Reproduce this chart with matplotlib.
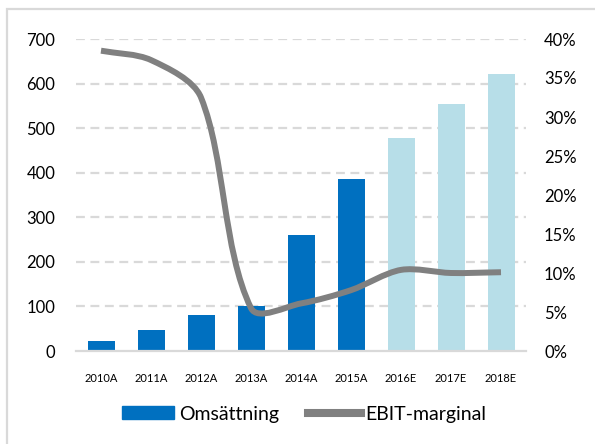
import numpy as np
import matplotlib.pyplot as plt
from matplotlib.path import Path
from matplotlib.patches import PathPatch, Rectangle, Patch
from matplotlib.lines import Line2D
from matplotlib.ticker import FuncFormatter

plt.rcParams['font.family'] = ['Lato', 'DejaVu Sans']

# data
years = ['2010A', '2011A', '2012A', '2013A', '2014A', '2015A', '2016E', '2017E', '2018E']
omsattning = [22, 47, 81, 100, 260, 386, 478, 554, 621]
ebit_marginal = [0.385, 0.373, 0.325, 0.055, 0.061, 0.078, 0.104, 0.100, 0.101]
estimat = [False, False, False, False, False, False, True, True, True]

blue = '#0070C0'
lightblue = '#B7DEE8'
grey = '#808080'
gridc = '#D9D9D9'

fig = plt.figure(figsize=(5.95, 4.44), dpi=100)
ax = fig.add_axes([76/595, 1-351/444, 450/595, 312/444])
ax2 = ax.twinx()

x = np.arange(len(years))
cols = [lightblue if e else blue for e in estimat]
ax.bar(x, omsattning, width=0.54, color=cols, zorder=2)
ax.set_xlim(-0.5, len(years)-0.5)
ax.set_ylim(0, 700)
ax.set_yticks(range(0, 701, 100))
ax.set_xticks(x)
ax.set_xticklabels(years, fontsize=8)
for yv in range(100, 701, 100):
    ax.axhline(yv, color=gridc, lw=1.6, ls=(0, (4, 2.5)), zorder=1)
ax.tick_params(axis='y', length=0, labelsize=12, pad=15)
ax.tick_params(axis='x', length=0, pad=16)
for s in ['top', 'left', 'right']:
    ax.spines[s].set_visible(False)
ax.spines['bottom'].set_color(gridc)
ax.spines['bottom'].set_linewidth(1.6)

ax2.set_ylim(0, 0.4)
ax2.set_yticks(np.arange(0, 0.41, 0.05))
ax2.yaxis.set_major_formatter(FuncFormatter(lambda v, p: f'{v*100:.0f}%'))
ax2.tick_params(axis='y', length=0, labelsize=12, pad=13)
for s in ax2.spines.values():
    s.set_visible(False)

# smoothed line (bezier through the points, excel style)
sx, sy = 50.0, 781.5  # pixels per category / per unit
P = np.column_stack([x * sx, np.array(ebit_marginal) * sy])
k = 0.3
verts = [P[0]]
codes = [Path.MOVETO]
n = len(P)
for i in range(n - 1):
    a, b = P[i], P[i + 1]
    seg = np.linalg.norm(b - a)
    d0 = (P[i + 1] - P[i - 1]) if i > 0 else (b - a)
    d1 = (P[i + 2] - P[i]) if i + 2 < n else (b - a)
    c1 = a + d0 / np.linalg.norm(d0) * k * seg
    c2 = b - d1 / np.linalg.norm(d1) * k * seg
    verts += [c1, c2, b]
    codes += [Path.CURVE4] * 3
verts = np.array(verts) / [sx, sy]
ax2.add_patch(PathPatch(Path(verts, codes), fill=False, edgecolor=grey,
                        lw=4.3, capstyle='butt', joinstyle='round', zorder=3))

handles = [Patch(color=blue), Line2D([], [], color=grey, lw=5.8)]
fig.legend(handles, ['Omsättning', 'EBIT-marginal'], loc='center',
           bbox_to_anchor=(304/595, 1-414/444), ncol=2, frameon=False,
           fontsize=14, handlelength=2.7, handleheight=0.6,
           handletextpad=0.25, columnspacing=1.5)

# outer frame and cut-off title
fig.patches.append(Rectangle((7/595, -0.1), 1.2, 1.1 - 9/444, transform=fig.transFigure,
                             fill=False, edgecolor=gridc, lw=1.6))
fig.text(430/595, 1 + 4.5/444, '(MSEK)', ha='center', va='baseline', fontsize=13)

fig.savefig('out.png', dpi=100)
